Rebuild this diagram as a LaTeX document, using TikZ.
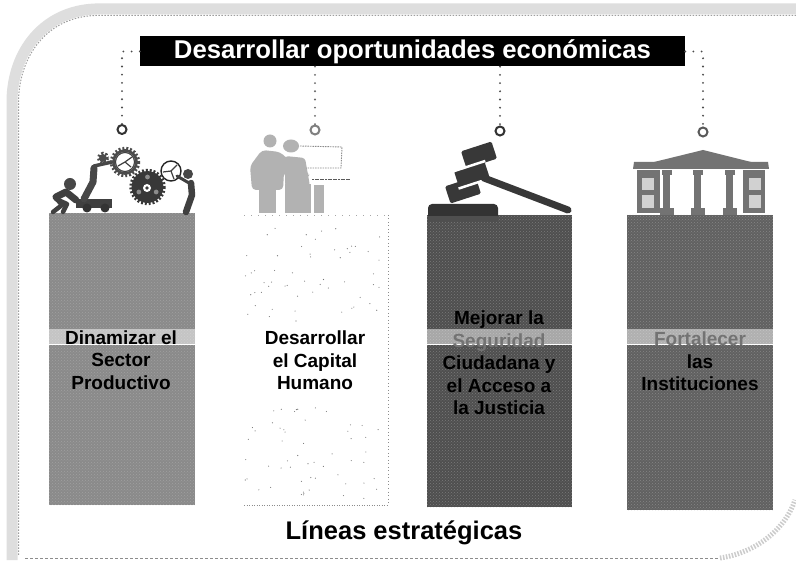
\documentclass[tikz,border=0pt]{standalone}
\usepackage{fontspec}
\setmainfont{Liberation Sans}
\usetikzlibrary{patterns}
\definecolor{barA}{gray}{0.54}
\definecolor{barC}{gray}{0.31}
\definecolor{barD}{gray}{0.38}
\tikzset{
  x=1pt,y=-1pt,
  barbox/.style={draw=none,anchor=north west,inner sep=0pt,outer sep=0pt},
  bartext/.style={font=\bfseries\fontsize{19}{22.5}\selectfont,align=center,inner sep=0pt,text=black},
  ring/.style={circle,draw=black!80,line width=2pt,fill=white,minimum size=9pt,inner sep=0pt},
  dotline/.style={line width=2.1pt,line cap=round,dash pattern=on 0pt off 8.2pt,draw=black!70},
  person/.style={fill=black!72,draw=none},
  lite/.style={fill=black!30,draw=none},
  bldg/.style={fill=black!55,draw=none},
  band/.style={fill=white,fill opacity=0.5,draw=none},
}
\newcommand{\drawgear}[4]{% x,y,r,tooth colour
  \draw[#4,line width=3.4pt,dash pattern=on 1.9pt off 1.9pt] (#1,#2) circle[radius=#3];
  \fill[#4] (#1,#2) circle[radius=#3-0.6];
}
\begin{document}
\begin{tikzpicture}
\useasboundingbox (0,0) rectangle (796,569);
\fill[white] (0,0) rectangle (796,569);
% frame
\draw[black!13,line width=11pt,line cap=butt] (796,9) -- (95,9) .. controls (45,11) and (13,50) .. (12,100) -- (12,560);
\draw[black!38,line width=1pt,dash pattern=on 1.5pt off 1.5pt] (796,15.5) -- (95,15.5) .. controls (50,17) and (20,52) .. (18.5,100) -- (18.5,556);
\draw[black!45,line width=.8pt,dash pattern=on 3pt off 2pt] (25,558) -- (720,558);
\draw[black!20,line width=5pt,dash pattern=on 1.5pt off 1.5pt] (720,558) .. controls (755,553) and (785,530) .. (795,500);
% bars
\node[barbox,fill=barA,minimum width=146pt,minimum height=292pt] (barone) at (49,213) {};
\node[barbox,minimum width=144pt,minimum height=290pt] (bartwo) at (244,215) {};
\node[barbox,fill=barC,minimum width=145pt,minimum height=292pt] (barthree) at (427,215) {};
\node[barbox,fill=barD,minimum width=146pt,minimum height=295pt] (barfour) at (627,215) {};
\foreach \n in {barone,barthree,barfour}{
  \fill[pattern=crosshatch dots,pattern color=white!80!black,opacity=.35] (\n.north west) rectangle (\n.south east);
}
\draw[black!45,line width=.8pt,dash pattern=on 1pt off 2.5pt] (bartwo.north east) -- (bartwo.south east);
\draw[black!45,line width=.8pt,dash pattern=on 1pt off 1.5pt] (bartwo.south west) -- (bartwo.south east);
\draw[black!35,line width=.8pt,dash pattern=on 1pt off 6pt] (bartwo.north west) -- (bartwo.north east);
\pgfmathsetseed{41}
\foreach \i in {1,...,55}{
  \fill[black!55] ({244+140*rnd},{222+100*rnd}) circle[radius=.55];
  \fill[black!55] ({244+140*rnd},{405+95*rnd}) circle[radius=.55];
}
% bands
\foreach \n/\x/\w in {barone/49/146,barthree/427/145,barfour/627/146}{
  \fill[band] (\x,329) rectangle (\x+\w,344);
  \fill[white] (\x,344) rectangle (\x+\w,345.5);
}
% bar 3 raised left part
\fill[black!80,rounded corners=4pt] (428,222) -- (428,204) -- (498,204) -- (498,222) -- cycle;
\fill[barC] (428,216) rectangle (498,222);
% title
\node[fill=black,text=white,font=\bfseries\fontsize{25.7}{28}\selectfont,minimum width=545pt,minimum height=30pt,inner sep=0pt,anchor=center] (title) at (412.5,51.5) {Desarrollar oportunidades económicas};
% rings and connectors
\node[ring] (ringone) at (122,129.5) {};
\node[ring,draw=black!50] (ringtwo) at (315,130) {};
\node[ring] (ringthree) at (500,131) {};
\node[ring,draw=black!65] (ringfour) at (703,132) {};
\draw[dotline] (title.west) -| (ringone.north);
\draw[dotline,draw=black!60] (title.south -| ringtwo) -- (ringtwo.north);
\draw[dotline] (title.south -| ringthree) -- (ringthree.north);
\draw[dotline] (title.east) -| (ringfour.north);
% icon 1: workers and gears
\fill[person] (70,184) circle[radius=6];
\draw[black!75,line width=7pt,line cap=round,line join=round] (56,197) -- (66,192) -- (76,200);
\draw[black!75,line width=4.5pt,line cap=round,line join=round] (55,197) -- (62,205) -- (53,212);
\draw[black!75,line width=4.5pt,line cap=round,line join=round] (56,199) -- (67,204) -- (63,212);
\fill[black!75] (76,199) rectangle (112,208);
\fill[black!80] (87,208) circle[radius=4.5] (105,208) circle[radius=4.5];
\draw[black!72,line width=7pt,line cap=round,line join=round] (84,199) -- (93,182) -- (94,168);
\draw[black!72,line width=3.5pt,line cap=round] (94,166) -- (112,162);
\drawgear{103}{158}{4.5}{black!70}
\drawgear{125}{162}{13.5}{black!70}
\fill[white] (125,162) circle[radius=10];
\draw[black!75,line width=1.1pt] (125,162) circle[radius=9.5];
\draw[black!75,line width=1.2pt] (125,162) -- (132,157) (125,162) -- (118,166) (125,162) -- (131,167);
\drawgear{147.5}{187}{16.5}{black!78}
\fill[white] (147,188) circle[radius=4];
\fill[black!78] (147,188) circle[radius=1.8];
\foreach \a in {30,150,270}{\fill[black!45] (147.5,187) ++(\a:10) circle[radius=2.4];}
\draw[black!85,line width=1.4pt,fill=white] (171,171) circle[radius=10];
\draw[black!75,line width=1.2pt] (171,171) -- (177,165) (171,171) -- (163,172) (171,171) -- (174,179);
\fill[person] (188,174) circle[radius=5];
\draw[black!75,line width=6.5pt,line cap=round,line join=round] (191,183) -- (192,195) -- (186,212);
\draw[black!75,line width=3pt,line cap=round] (189,183) -- (177,176);
% icon 2: people at a board
\fill[lite] (270,141) circle[radius=6.5];
\fill[lite,rounded corners=4pt] (250,166) -- (262,150) -- (280,152) -- (300,170) -- (310,173) -- (308,178) -- (284,172) -- (283,190) -- (252,190) -- cycle;
\fill[lite] (259,190) rectangle (276,213);
\fill[lite] (291,146) ellipse[x radius=8,y radius=6.5];
\fill[lite,rounded corners=3pt] (285,156) -- (305,158) -- (310,186) -- (285,186) -- cycle;
\fill[lite] (285,184) rectangle (311,213);
\fill[lite] (314,185) rectangle (324,213);
\draw[black!45,line width=.9pt,dash pattern=on 1.5pt off 1pt] (300,146) -- (342,147) -- (341,168) -- (306,168);
\draw[black!65,line width=.9pt,dash pattern=on 2pt off .6pt] (312,179) -- (350,179);
% icon 3: gavel
\foreach \cx/\cy in {479/155,472/175,463/190}{
  \fill[black!78,rounded corners=1.5pt,rotate around={18:(\cx,\cy)}] (\cx-16,\cy-9) rectangle (\cx+16,\cy+9);
}
\fill[white,rotate around={18:(472,175)}] (472-17,175-10.5) rectangle (472+17,175-8);
\fill[white,rotate around={18:(472,175)}] (472-17,175+7.5) rectangle (472+17,175+10);
\draw[black!78,line width=7pt,line cap=round] (484,178) -- (568,210);
% icon 4: building
\fill[bldg] (703,150) -- (755,163) -- (650,163) -- cycle;
\fill[bldg] (634,162) -- (768,162) -- (769,169) -- (633,169) -- cycle;
\fill[bldg] (637,170) rectangle (660,213);
\fill[bldg] (743,170) rectangle (765,213);
\foreach \wx in {642,749}{
  \fill[black!18] (\wx,178) rectangle (\wx+12,190);
  \fill[black!18] (\wx,195) rectangle (\wx+12,208);
}
\foreach \cx in {667,698,730}{
  \fill[bldg] (\cx-5,170) rectangle (\cx+5,175);
  \fill[bldg] (\cx-4,175) rectangle (\cx+3,208);
  \fill[bldg] (\cx-7,208) rectangle (\cx+7,215);
}
% texts
\node[bartext] (textone) at (121,360) {Dinamizar el\\Sector\\Productivo};
\node[bartext] (texttwo) at (315,360.5) {Desarrollar\\el Capital\\Humano};
\node[bartext] (textthree) at (499,363) {Mejorar la\\\textcolor{black!55}{Seguridad}\\Ciudadana y\\el Acceso a\\la Justicia};
\node[bartext] (textfour) at (700,361.5) {\textcolor{black!55}{Fortalecer}\\las\\Instituciones};
\node[font=\bfseries\fontsize{25.5}{28}\selectfont,inner sep=0pt] (lineas) at (404,533) {Líneas estratégicas};
\end{tikzpicture}
\end{document}
